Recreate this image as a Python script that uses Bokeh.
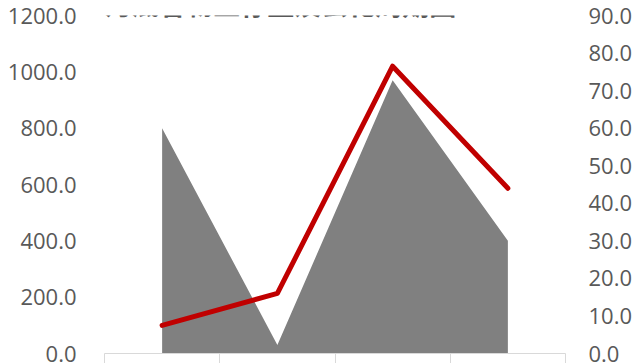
from bokeh.plotting import figure
from bokeh.models import Range1d, LinearAxis, FixedTicker, Label, PrintfTickFormatter
from bokeh.embed import file_html
from bokeh.resources import INLINE

# ---- data ----
title_text = "2020年1月底各物业存量及去化周期图"
categories = ["住宅", "商业", "办公", "其他"]   # category labels are cut off in the reference
stock = [800.0, 30.0, 970.0, 400.0]          # 存量 (left axis)
cycle = [7.5, 16.0, 76.5, 44.0]              # 去化周期 (right axis)
left_ticks = [0, 200, 400, 600, 800, 1000, 1200]
right_ticks = [0, 10, 20, 30, 40, 50, 60, 70, 80, 90]

xs = [i + 0.5 for i in range(len(categories))]
boundaries = list(range(len(categories) + 1))

FONT = "Open Sans"
TXT = "#595959"

p = figure(width=635, height=363, output_backend="svg", toolbar_location=None,
           x_range=Range1d(0, len(categories)), y_range=Range1d(0, 1200),
           min_border_left=104, min_border_right=68, min_border_top=15, min_border_bottom=10,
           background_fill_color="white", border_fill_color="white")
p.outline_line_color = None
p.xgrid.visible = False
p.ygrid.visible = False
p.extra_y_ranges = {"r": Range1d(0, 90)}

p.varea(x=xs, y1=[0] * len(xs), y2=stock, fill_color="#808080", fill_alpha=1.0)
p.line(x=xs, y=cycle, y_range_name="r", line_color="#C00000", line_width=5,
       line_cap="round", line_join="round")

# left axis
ya = p.yaxis[0]
ya.ticker = FixedTicker(ticks=left_ticks)
ya.formatter = PrintfTickFormatter(format="%.1f")
ya.axis_line_color = None
ya.major_tick_line_color = None
ya.minor_tick_line_color = None
ya.major_tick_out = 0
ya.major_tick_in = 0
ya.major_label_standoff = 28
ya.major_label_text_font = FONT
ya.major_label_text_font_size = "22px"
ya.major_label_text_color = TXT

# right axis
ra = LinearAxis(y_range_name="r", ticker=FixedTicker(ticks=right_ticks),
                formatter=PrintfTickFormatter(format="%.1f"))
ra.axis_line_color = None
ra.major_tick_line_color = None
ra.minor_tick_line_color = None
ra.major_tick_out = 0
ra.major_tick_in = 0
ra.major_label_standoff = 23
ra.major_label_text_font = FONT
ra.major_label_text_font_size = "22px"
ra.major_label_text_color = TXT
p.add_layout(ra, "right")

# bottom axis: category boundaries as ticks (the category labels are cut off in the reference)
xa = p.xaxis[0]
xa.ticker = FixedTicker(ticks=[], minor_ticks=boundaries)
xa.axis_line_color = "#d9d9d9"
xa.axis_line_width = 1
xa.major_tick_line_color = None
xa.minor_tick_line_color = "#d9d9d9"
xa.major_tick_out = 10
xa.major_tick_in = 0
xa.minor_tick_out = 10
xa.minor_tick_in = 0
xa.major_label_standoff = 0

# title, mostly cut off at the top edge as in the reference
p.add_layout(Label(x=-2, y=3, x_units="canvas", y_units="canvas",
                   text=title_text, text_align="left", text_baseline="alphabetic",
                   text_font="Noto Sans CJK SC", text_font_style="bold",
                   text_font_size="27px", text_color=TXT, level="overlay"))

open("out.html", "w").write(file_html(p, INLINE))
